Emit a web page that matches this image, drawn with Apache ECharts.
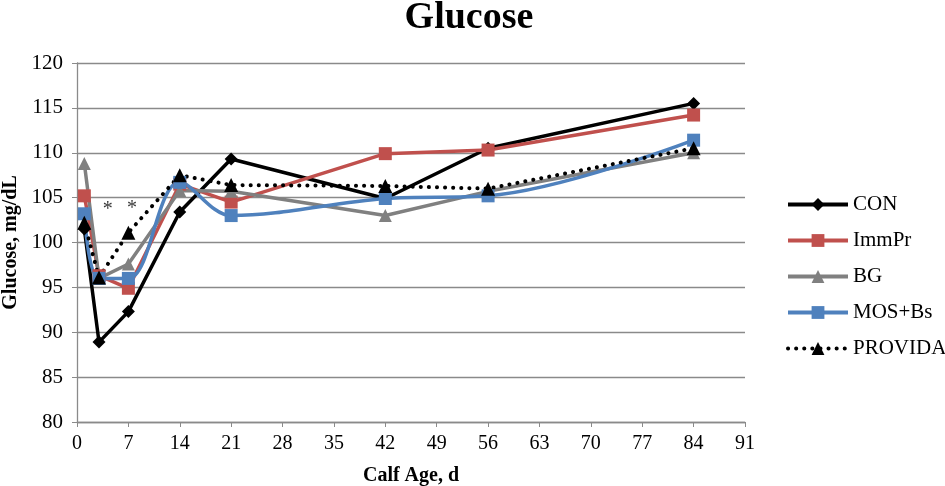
<!DOCTYPE html>
<html>
<head>
<meta charset="utf-8">
<script src="https://cdn.jsdelivr.net/npm/echarts@6/dist/echarts.min.js"></script>
<style>
  html, body { margin: 0; padding: 0; background: #fff; }
  #chart { width: 945px; height: 486px; }
</style>
</head>
<body>
<div id="chart"></div>
<script>
// calf age, days
const days = [1, 3, 7, 14, 21, 42, 56, 84];
// glucose, mg/dL per treatment
const conValues = [101.5, 88.9, 92.3, 103.4, 109.3, 104.9, 110.5, 115.5];
const immPrValues = [105.2, 96.3, 94.9, 106.5, 104.5, 109.9, 110.3, 114.2];
const bgValues = [108.8, 96.0, 97.6, 105.8, 105.7, 103.0, 105.7, 110.0];
const mosBsValues = [103.2, 96.0, 96.0, 106.7, 103.0, 104.9, 105.2, 111.4];
const providaValues = [102.2, 96.1, 101.1, 107.5, 106.4, 106.3, 106.0, 110.5];
// significance markers
const starDays = [4.2, 7.5];
const starValues = [103.6, 103.8];

const seriesNames = ["CON", "ImmPr", "BG", "MOS+Bs", "PROVIDA"];
const FONT = "Liberation Serif";

const toPoints = (values) => days.map((d, i) => [d, values[i]]);

const chart = echarts.init(document.getElementById("chart"));

/**
 * build one line series
 */
const lineSeries = (name, values, color, symbol, size, extra = {}) => ({
  name,
  type: "line",
  data: toPoints(values),
  symbol,
  symbolSize: size,
  itemStyle: { color },
  lineStyle: { color, width: 3.5 },
  ...extra,
});

const option = {
  animation: false,
  backgroundColor: "#fff",
  title: {
    text: "Glucose",
    left: 464,
    textAlign: "center",
    top: -6,
    textStyle: { fontFamily: FONT, fontSize: 38, fontWeight: "bold", color: "#000" },
  },
  grid: {
    left: 77,
    right: 200,
    top: 63,
    bottom: 64,
    containLabel: false,
    outerBoundsMode: "none",
  },
  legend: {
    data: seriesNames,
    orient: "vertical",
    left: 786,
    top: 194,
    padding: 0,
    itemWidth: 60,
    itemHeight: 16,
    itemGap: 15,
    lineStyle: { width: 4 },
    textStyle: { fontFamily: FONT, fontSize: 21, color: "#000" },
  },
  xAxis: {
    type: "value",
    min: 0,
    max: 91,
    interval: 7,
    name: "Calf Age, d",
    nameLocation: "middle",
    nameGap: 44,
    nameTextStyle: { fontFamily: FONT, fontSize: 20, fontWeight: "bold", color: "#000" },
    axisLine: { show: true, lineStyle: { color: "#8a8a8a", width: 1.3 } },
    axisTick: { show: true, length: 5, lineStyle: { color: "#8a8a8a" } },
    axisLabel: { fontFamily: FONT, fontSize: 20, color: "#000", margin: 12 },
    splitLine: { show: false },
  },
  yAxis: {
    type: "value",
    min: 80,
    max: 120,
    interval: 5,
    name: "Glucose, mg/dL",
    nameLocation: "middle",
    nameRotate: 90,
    nameGap: 55,
    nameTextStyle: { fontFamily: FONT, fontSize: 20, fontWeight: "bold", color: "#000" },
    axisLine: { show: true, lineStyle: { color: "#8a8a8a", width: 1.3 } },
    axisTick: { show: true, length: 5, lineStyle: { color: "#8a8a8a" } },
    axisLabel: { fontFamily: FONT, fontSize: 21, color: "#000", margin: 14 },
    splitLine: { show: true, lineStyle: { color: "#8a8a8a", width: 1.3 } },
  },
  series: [
    lineSeries("CON", conValues, "#000000", "diamond", 13),
    lineSeries("ImmPr", immPrValues, "#c0504d", "rect", 13),
    lineSeries("BG", bgValues, "#808080", "triangle", 13),
    lineSeries("MOS+Bs", mosBsValues, "#4f81bd", "rect", 13, { smooth: 0.35 }),
    lineSeries("PROVIDA", providaValues, "#000000", "triangle", 14, {
      lineStyle: { color: "#000", width: 4, type: [0.1, 8], cap: "round" },
    }),
    {
      name: "sig",
      type: "scatter",
      data: starDays.map((d, i) => [d, starValues[i]]),
      symbolSize: 0,
      silent: true,
      label: {
        show: true,
        position: "inside",
        formatter: "*",
        fontFamily: FONT,
        fontSize: 20,
        color: "#000",
      },
    },
  ],
};

chart.setOption(option);
</script>
</body>
</html>
